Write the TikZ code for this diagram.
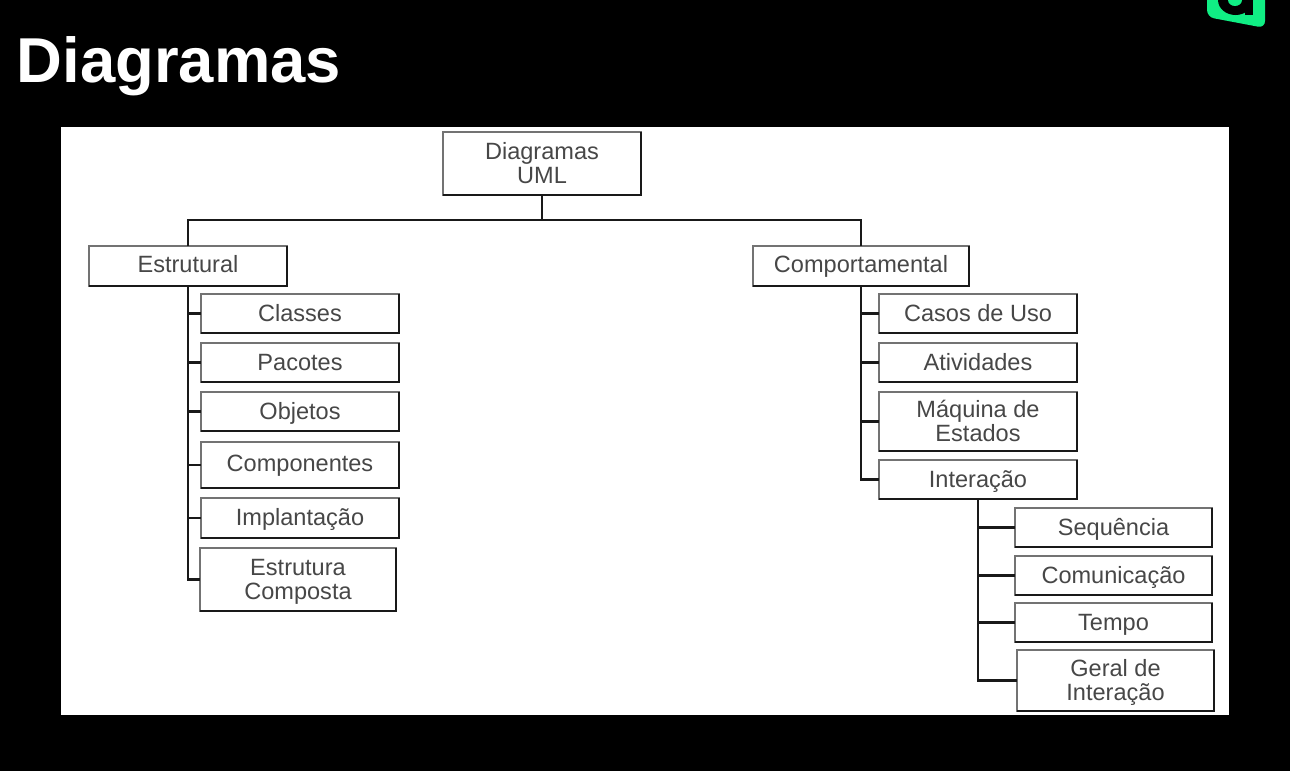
\documentclass[tikz,border=0pt]{standalone}
\usepackage{fontspec}
\setmainfont{Liberation Sans}
\definecolor{logogreen}{HTML}{10EE84}
\tikzset{
  caixa/.style={draw=black!55, line width=1.4pt, fill=white, text=black!72, align=center, inner sep=0pt, outer sep=0pt, font=\fontsize{13.4}{13.6}\selectfont},
  borda/.style={draw=black!90, line width=1.6pt},
  ligacao/.style={draw=black!90, line width=1.3pt},
}
% caixa: nome, largura, altura, x, y, texto (em pixels)
\newcommand{\caixa}[6]{%
  \node[caixa, minimum width=#2*0.02cm, minimum height=#3*0.02cm] (#1) at (#4,#5) {\rule{0pt}{12pt}#6\rule[-3pt]{0pt}{3pt}};
  \draw[borda] (#1.north east) -- (#1.south east) -- (#1.south west);
}
\begin{document}
\begin{tikzpicture}[x=0.02cm, y=-0.02cm]
            % Fundo
            \fill[black] (0,0) rectangle (1290,771);
            \useasboundingbox (0,0) rectangle (1290,771);
            \fill[white] (61,127) rectangle (1229,715);

            % Logo (cortado em cima)
            \fill[logogreen, rounded corners=4pt] (1207,-8) -- (1207,17) -- (1265,28) -- (1265,-8) -- cycle;
            \fill[black] (1218,0) arc[start angle=180, end angle=0, x radius=17.5, y radius=15] -- cycle;
            \fill[black] (1245,0) rectangle (1253,15);
            \fill[logogreen] (1228,0) arc[start angle=180, end angle=0, x radius=7, y radius=6] -- cycle;

            % Titulo
            \node[anchor=base west, inner sep=0pt, text=white, font=\fontsize{36.1}{36}\selectfont\bfseries] (titulo) at (16.5,82) {Diagramas};

            % Raiz e os dois ramos
            \caixa{uml}{198}{63}{542}{163.5}{Diagramas\\UML}
            \caixa{estrutural}{198}{40}{188}{266}{\raisebox{1pt}{Estrutural}}
            \caixa{comport}{216}{40}{861}{266}{\raisebox{1pt}{Comportamental}}

            % Diagramas estruturais
            \caixa{classes}{198}{39}{300}{313.5}{Classes}
            \caixa{pacotes}{198}{39}{300}{362.5}{Pacotes}
            \caixa{objetos}{198}{39}{300}{411.5}{Objetos}
            \caixa{componentes}{198}{46}{300}{465}{\raisebox{1pt}{Componentes}}
            \caixa{implantacao}{198}{40}{300}{518}{Implantação}
            \caixa{composta}{196}{63}{298}{579.5}{Estrutura\\Composta}

            % Diagramas comportamentais
            \caixa{casos}{198}{39}{978}{313.5}{Casos de Uso}
            \caixa{atividades}{198}{39}{978}{362.5}{Atividades}
            \caixa{maquina}{198}{59}{978}{421.5}{Máquina de\\Estados}
            \caixa{interacao}{198}{39}{978}{479.5}{Interação}

            % Diagramas de interacao
            \caixa{sequencia}{197}{39}{1113.5}{527.5}{Sequência}
            \caixa{comunicacao}{197}{39}{1113.5}{575.5}{Comunicação}
            \caixa{tempo}{197}{39}{1113.5}{622.5}{Tempo}
            \caixa{geral}{197}{61}{1115.5}{680.5}{Geral de\\Interação}

            % Ligacoes
            \coordinate (juncao) at (542,220);
            \draw[ligacao] (uml.south) -- (juncao);
            \draw[ligacao] (estrutural.north) |- (juncao) -| (comport.north);
            \foreach \filho in {classes,pacotes,objetos,componentes,implantacao,composta}
                \draw[ligacao] (estrutural.south) |- (\filho.west);
            \foreach \filho in {casos,atividades,maquina,interacao}
                \draw[ligacao] (comport.south) |- (\filho.west);
            \foreach \filho in {sequencia,comunicacao,tempo,geral}
                \draw[ligacao] (interacao.south) |- (\filho.west);
\end{tikzpicture}
\end{document}
